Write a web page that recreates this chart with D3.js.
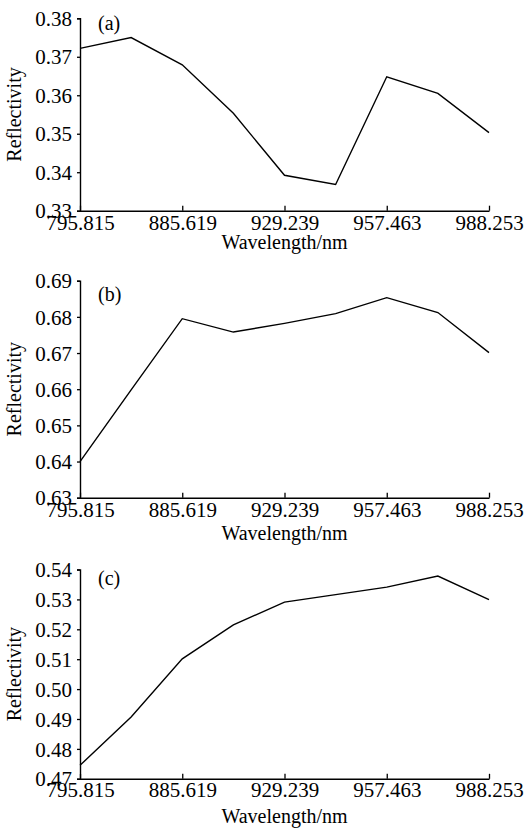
<!DOCTYPE html>
<html>
<head>
<meta charset="utf-8">
<script src="https://cdn.jsdelivr.net/npm/d3@7"></script>
<style>
  html, body { margin: 0; padding: 0; background: #fff; }
  svg { display: block; }
  text { font-family: "Liberation Serif", "Times New Roman", serif; fill: #000; }
</style>
</head>
<body>
<svg id="chart" width="525" height="828"></svg>
<script>
// ---- data ----
const pointIndex = [0, 1, 2, 3, 4, 5, 6, 7, 8];
const xTickIndex = [0, 2, 4, 6, 8];
const xTickLabels = ["795.815", "885.619", "929.239", "957.463", "988.253"];

const seriesA = [0.3722, 0.3750, 0.3679, 0.3553, 0.3392, 0.3368, 0.3648, 0.3605, 0.3503];
const seriesB = [0.6400, 0.6598, 0.6795, 0.6758, 0.6782, 0.6809, 0.6853, 0.6812, 0.6701];
const seriesC = [0.4745, 0.4907, 0.5101, 0.5215, 0.5291, 0.5316, 0.5341, 0.5378, 0.5299];

const yTicksA = [0.33, 0.34, 0.35, 0.36, 0.37, 0.38];
const yTicksB = [0.63, 0.64, 0.65, 0.66, 0.67, 0.68, 0.69];
const yTicksC = [0.47, 0.48, 0.49, 0.50, 0.51, 0.52, 0.53, 0.54];

const panelLabels = ["(a)", "(b)", "(c)"];
const xTitle = "Wavelength/nm";
const yTitle = "Reflectivity";

// ---- layout ----
const svg = d3.select("#chart");
const left = 80, right = 489;
const panels = [
  { values: seriesA, ticks: yTicksA, label: panelLabels[0], top: 18.3, bottom: 210.7, tickBase: 19, titleBase: 38.5, labelBase: 12 },
  { values: seriesB, ticks: yTicksB, label: panelLabels[1], top: 280.7, bottom: 497.7, tickBase: 19.5, titleBase: 42.5, labelBase: 20 },
  { values: seriesC, ticks: yTicksC, label: panelLabels[2], top: 569.5, bottom: 778.8, tickBase: 18.5, titleBase: 44.5, labelBase: 15.5 }
];

const x = d3.scaleLinear().domain([0, 8]).range([left, right]);

panels.forEach(p => {
  const y = d3.scaleLinear().domain([p.ticks[0], p.ticks[p.ticks.length - 1]]).range([p.bottom, p.top]);
  const g = svg.append("g");

  // y axis
  const yAxis = d3.axisLeft(y).tickValues(p.ticks).tickSize(3).tickPadding(5)
    .tickFormat(d3.format(".2f"));
  const ya = g.append("g").attr("transform", `translate(${left},0)`).call(yAxis);
  ya.select(".domain").attr("stroke", "#000").attr("stroke-width", 1.4);
  ya.selectAll(".tick line").attr("stroke", "#000").attr("stroke-width", 1.3);
  ya.selectAll(".tick text").attr("font-size", 21).attr("font-family", "Liberation Serif").attr("dy", "0.34em");

  // x axis (ticks pointing up)
  const xAxis = d3.axisBottom(x).tickValues(xTickIndex).tickSizeInner(-5).tickSizeOuter(0)
    .tickFormat((d, i) => xTickLabels[i]);
  const xa = g.append("g").attr("transform", `translate(0,${p.bottom})`).call(xAxis);
  xa.select(".domain").attr("stroke", "#000").attr("stroke-width", 1.4);
  xa.selectAll(".tick line").attr("stroke", "#000").attr("stroke-width", 1.3);
  xa.selectAll(".tick text").attr("font-size", 21).attr("font-family", "Liberation Serif")
    .attr("y", p.tickBase).attr("dy", 0);

  // line
  const line = d3.line().x((d, i) => x(pointIndex[i])).y(d => y(d));
  g.append("path").datum(p.values).attr("d", line)
    .attr("fill", "none").attr("stroke", "#000").attr("stroke-width", 1.4)
    .attr("stroke-linejoin", "miter");

  // titles
  g.append("text").attr("x", (left + right) / 2).attr("y", p.bottom + p.titleBase)
    .attr("text-anchor", "middle").attr("font-size", 20).text(xTitle);
  g.append("text").attr("transform", `translate(21,${(p.top + p.bottom) / 2}) rotate(-90)`)
    .attr("text-anchor", "middle").attr("font-size", 20).text(yTitle);
  g.append("text").attr("x", 98).attr("y", p.top + p.labelBase)
    .attr("font-size", 20).text(p.label);
});
</script>
</body>
</html>
